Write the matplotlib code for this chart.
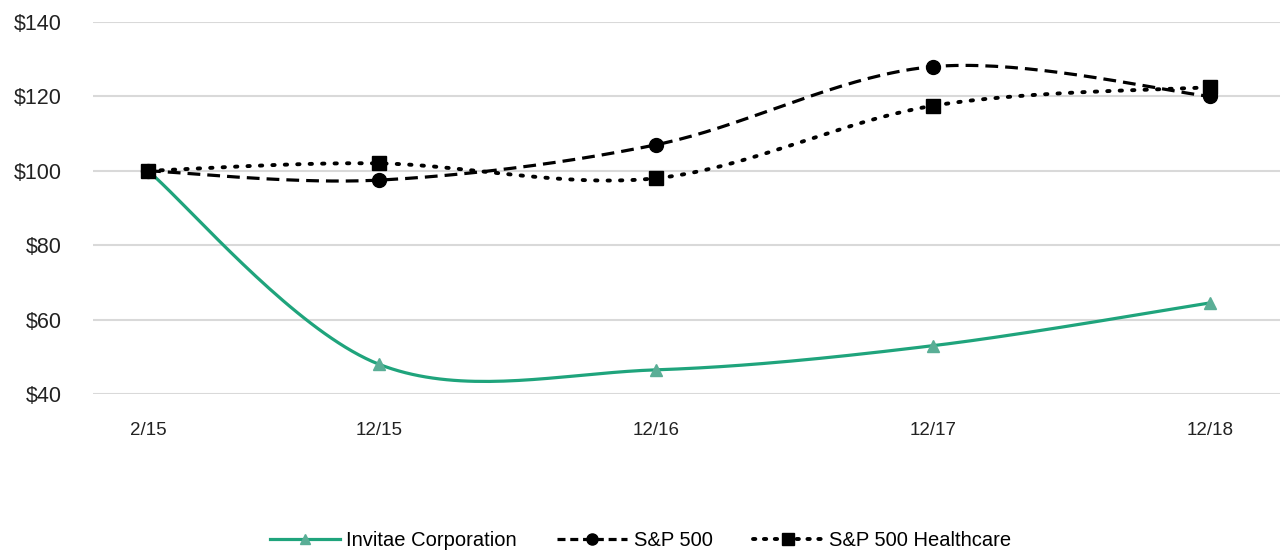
import matplotlib.pyplot as plt
import numpy as np

plt.rcParams['font.family'] = ['Liberation Sans', 'DejaVu Sans']

# Данные
labels = ['2/15', '12/15', '12/16', '12/17', '12/18']
months = [0, 10, 22, 34, 46]   # месяцы от 2/15
invitae = [100, 48, 46.5, 53, 64.5]
sp500 = [100, 97.5, 107, 128, 120]
sp_health = [100, 102, 98, 117.5, 122.5]


def smooth(xs, ys, n=40):
    # сглаживание как в Excel: кубические кривые Безье
    p = np.column_stack([xs, ys]).astype(float)
    p = np.vstack([p[0], p, p[-1]])
    out = []
    t = np.linspace(0, 1, n)[:, None]
    for i in range(1, len(p) - 2):
        p0, p3 = p[i], p[i + 1]
        c1 = p0 + (p[i + 1] - p[i - 1]) / 6
        c2 = p3 - (p[i + 2] - p[i]) / 6
        seg = (1 - t) ** 3 * p0 + 3 * (1 - t) ** 2 * t * c1 + 3 * (1 - t) * t ** 2 * c2 + t ** 3 * p3
        out.append(seg if i == 1 else seg[1:])
    seg = np.vstack(out)
    return seg[:, 0], seg[:, 1]


fig = plt.figure(figsize=(12.86, 5.53), dpi=100)
ax = fig.add_axes([0.072, 0.2875, 0.923, 0.6727])

green = '#1fa47c'

x, y = smooth(months, invitae)
ax.plot(x, y, color=green, lw=2.3, zorder=3)
ax.plot(months, invitae, ls='none', marker='^', ms=9, color='#5aae96', zorder=4)

x, y = smooth(months, sp500)
ax.plot(x, y, color='black', lw=2.3, dashes=(4, 2.2), zorder=3)
ax.plot(months, sp500, ls='none', marker='o', ms=10, color='black', zorder=4)

x, y = smooth(months, sp_health)
ax.plot(x, y, color='black', lw=2.8, dashes=(0.6, 2.6), dash_capstyle='round', zorder=3)
ax.plot(months, sp_health, ls='none', marker='s', ms=10, color='black', zorder=4)

# легенда из отдельных элементов
h1, = ax.plot([], [], color=green, lw=2.3, marker='^', ms=7, mfc='#5aae96', mec='#5aae96')
h2, = ax.plot([], [], color='black', lw=2.3, dashes=(2.5, 1.5), marker='o', ms=8)
h3, = ax.plot([], [], color='black', lw=2.8, dashes=(0.6, 2.2), dash_capstyle='round', marker='s', ms=8)
fig.legend([h1, h2, h3], ['Invitae Corporation', 'S&P 500', 'S&P 500 Healthcare'],
           loc='center', bbox_to_anchor=(0.498, 0.022), ncol=3, frameon=False,
           fontsize=14.5, handlelength=3.5, handletextpad=0.3, columnspacing=2.0,
           numpoints=1, borderpad=0, borderaxespad=0)

ax.set_xlim(-2.4, 49)
ax.set_ylim(40, 140)
ax.set_yticks(range(40, 141, 20))
ax.set_yticklabels(['$%d' % v for v in range(40, 141, 20)])
ax.set_xticks(months)
ax.set_xticklabels(labels)
ax.tick_params(length=0, colors='#222222')
ax.tick_params(axis='x', pad=20, labelsize=13.5)
ax.tick_params(axis='y', pad=22, labelsize=15.5)
ax.grid(axis='y', color='#d9d9d9', lw=1.5)
ax.set_axisbelow(True)
for s in ax.spines.values():
    s.set_visible(False)

plt.savefig('out.png', dpi=100)
